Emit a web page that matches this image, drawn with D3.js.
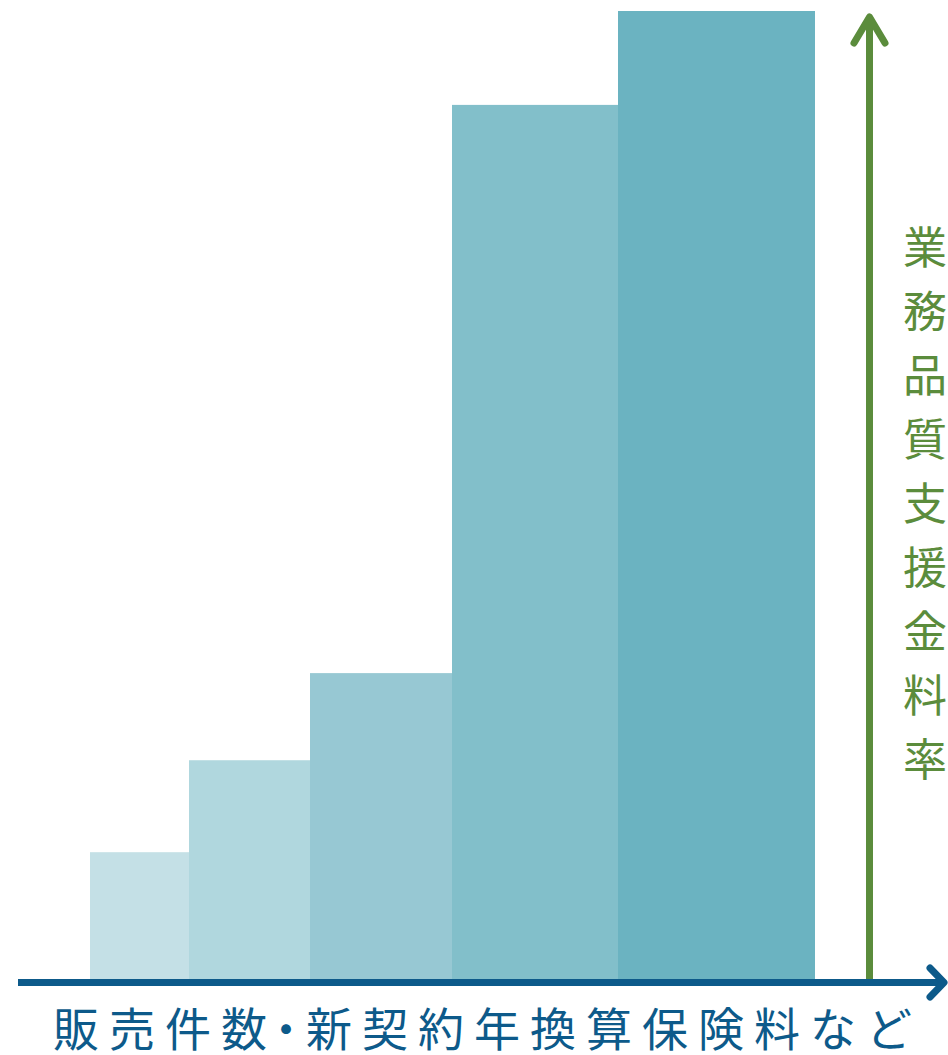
<!DOCTYPE html>
<html><head><meta charset="utf-8">
<script src="https://cdn.jsdelivr.net/npm/d3@7"></script>
<style>html,body{margin:0;padding:0;background:#fff;}svg{display:block;}</style>
</head><body>
<svg id="c" width="948" height="1055"></svg>
<script>
// Data
const binEdges = [0, 99, 220, 362, 528, 725];        // cumulative volume (relative)
const rates = [13.1, 22.6, 31.6, 90.3, 100];          // support rate (relative)
const barColors = ["#c4e0e6", "#b0d7de", "#97c8d3", "#82bfca", "#6bb3c1"];
const xLabelParts = ["販売件数", "・", "新契約年換算保険料など"];
const yLabel = "業務品質支援金料率";

const svg = d3.select("#c");
const x = d3.scaleLinear().domain([0, 725]).range([90, 815]);
const y = d3.scaleLinear().domain([0, 100]).range([979, 11]);

const bars = rates.map((r, i) => ({x0: binEdges[i], x1: binEdges[i+1], v: r, c: barColors[i]}));
svg.append("g").selectAll("rect").data(bars).join("rect")
  .attr("x", d => x(d.x0)).attr("width", d => x(d.x1) - x(d.x0))
  .attr("y", d => y(d.v)).attr("height", d => y(0) - y(d.v))
  .attr("fill", d => d.c);

const blue = "#0d5a8a", green = "#5b8c3c";
// y arrow
const ay = svg.append("g").attr("stroke", green).attr("stroke-width", 7).attr("fill", "none")
  .attr("stroke-linecap", "round").attr("stroke-linejoin", "round");
ay.append("line").attr("x1", 869.5).attr("x2", 869.5).attr("y1", 980).attr("y2", 16).attr("stroke-linecap", "butt");
ay.append("polyline").attr("points", "854,43 869.5,17 885,43");

// x arrow
const ax = svg.append("g").attr("stroke", blue).attr("stroke-width", 7).attr("fill", "none")
  .attr("stroke-linecap", "round").attr("stroke-linejoin", "round");
ax.append("line").attr("x1", 18).attr("x2", 943).attr("y1", 982.5).attr("y2", 982.5).attr("stroke-linecap", "butt");
ax.append("polyline").attr("points", "930,968 944,982.5 930,997");

// labels
const xt = svg.append("text").attr("x", 53).attr("y", 1046)
  .attr("font-family", "'Noto Sans CJK JP', sans-serif").attr("font-size", 46)
  .attr("fill", blue);
xt.append("tspan").attr("letter-spacing", 10).text(xLabelParts[0]);
xt.append("tspan").attr("dx", -14).attr("letter-spacing", -3).text(xLabelParts[1]);
xt.append("tspan").attr("letter-spacing", 10).text(xLabelParts[2]);

svg.append("g").selectAll("text").data(Array.from(yLabel)).join("text")
  .attr("x", 925).attr("y", (d, i) => 264 + i * 64)
  .attr("text-anchor", "middle")
  .attr("font-family", "'Noto Sans CJK JP', sans-serif").attr("font-size", 44)
  .attr("fill", green).text(d => d);
</script>
</body></html>
